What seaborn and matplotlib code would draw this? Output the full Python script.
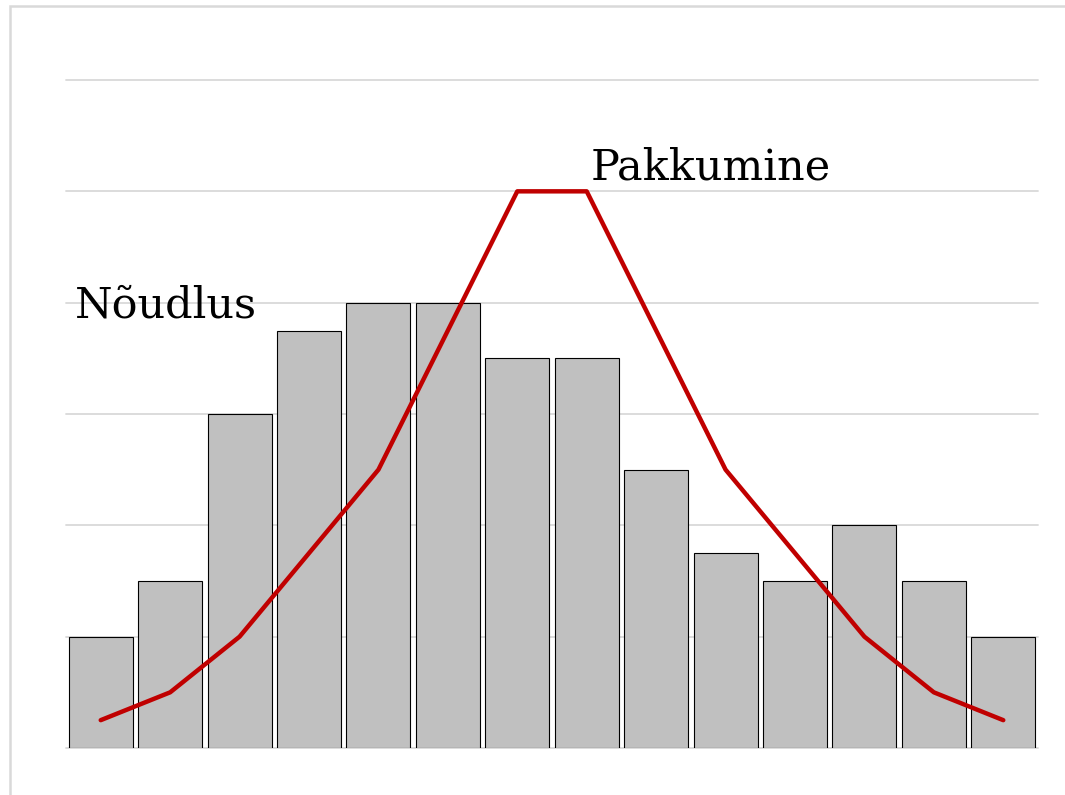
import matplotlib
matplotlib.use("Agg")
import matplotlib.pyplot as plt
import seaborn as sns
import pandas as pd
import numpy as np
from matplotlib.patches import Rectangle

# Data
categories = [str(i) for i in range(1, 15)]
noudlus = [1, 1.5, 3, 3.75, 4, 4, 3.5, 3.5, 2.5, 1.75, 1.5, 2, 1.5, 1]
pakkumine = [0.25, 0.5, 1, 1.75, 2.5, 3.75, 5, 5, 3.75, 2.5, 1.75, 1, 0.5, 0.25]
label_noudlus = "Nõudlus"
label_pakkumine = "Pakkumine"

df = pd.DataFrame({"cat": categories, "noudlus": noudlus, "pakkumine": pakkumine})
df["pos"] = np.arange(len(categories))

sns.set_theme(style="white")
plt.rcParams['font.family'] = ['DejaVu Serif']

fig = plt.figure(figsize=(10.65, 7.95), dpi=100)
# outer light frame
fig.patches.append(Rectangle((10/1065, -0.05), 1.2, 1 - 6/795 + 0.05, transform=fig.transFigure,
                             fill=False, edgecolor="#d9d9d9", linewidth=1.8, zorder=0))
ax = fig.add_axes([66/1065, 1 - 748/795, (1038-66)/1065, (748-80)/795])

sns.barplot(data=df, x="cat", y="noudlus", color="#c0c0c0", saturation=1,
            edgecolor="black", linewidth=0.8, width=0.92, ax=ax, zorder=2)
sns.lineplot(data=df, x="pos", y="pakkumine", color="#c00000", linewidth=3.2, ax=ax, zorder=3)

ax.set_xlim(-0.5, 13.5)
ax.set_ylim(0, 6)
ax.set_yticks([0, 1, 2, 3, 4, 5, 6])
ax.yaxis.grid(True, color="#d9d9d9", linewidth=1.3, zorder=0)
ax.set_axisbelow(True)
ax.set_xticks([])
ax.set_yticklabels([])
ax.tick_params(left=False, bottom=False)
ax.set_xlabel("")
ax.set_ylabel("")
for s in ax.spines.values():
    s.set_visible(False)
for gl in ax.yaxis.get_gridlines():
    gl.set_clip_on(False)

ax.text(-0.37, 3.87, label_noudlus, fontsize=31, ha="left", va="baseline", color="black")
ax.text(7.05, 5.11, label_pakkumine, fontsize=31, ha="left", va="baseline", color="black")

fig.savefig("out.png", dpi=100)
